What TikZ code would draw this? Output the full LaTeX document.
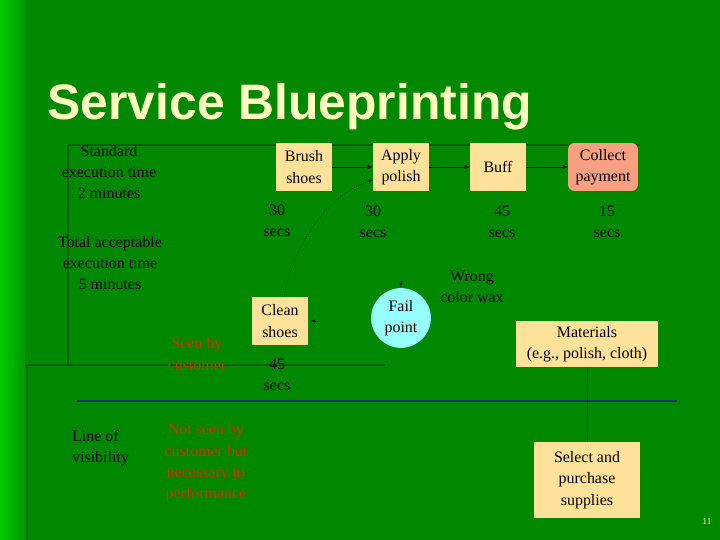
\documentclass[tikz,border=0pt]{standalone}
\usepackage{fontspec}
\setmainfont{Liberation Serif}
\newfontfamily\titlefont{Liberation Sans}
\usetikzlibrary{arrows}
\usetikzlibrary{shapes}
\usetikzlibrary{calc}
\usetikzlibrary{positioning}

\definecolor{slidegreen}{RGB}{0,136,0}
\definecolor{stripgreen}{RGB}{0,200,0}
\definecolor{framegreen}{RGB}{0,95,0}
\definecolor{titlecream}{RGB}{255,255,192}
\definecolor{boxcream}{RGB}{255,226,154}
\definecolor{paysalmon}{RGB}{250,160,130}
\definecolor{failcyan}{RGB}{150,255,255}
\definecolor{seenred}{RGB}{205,50,0}
\definecolor{visblue}{RGB}{15,55,110}

\tikzset{
  txt/.style={align=center, inner sep=0pt, text=black, font=\fontsize{16}{21.5}\selectfont},
  stepbox/.style={txt, fill=boxcream, minimum width=56, minimum height=48},
  paybox/.style={stepbox, fill=paysalmon, rounded corners=6, minimum width=70},
  redtxt/.style={txt, text=seenred},
  flow/.style={->, thick, draw=black}
}

\begin{document}
\begin{tikzpicture}[>=latex, x=1bp, y=-1bp]
    \path[use as bounding box] (0,0) rectangle (720,540);
% slide background
\begin{scope}
\fill[slidegreen] (0,0) rectangle (720,540);
\foreach \i in {0,...,9}
  \fill[stripgreen!\the\numexpr 100-\i*8\relax!slidegreen] (2.5*\i,0) rectangle (2.5*\i+2.6,540);
\draw[draw=framegreen, line width=3] (68,145) -- (640,145);
\draw[draw=framegreen, line width=3] (68,145) -- (68,365);
\draw[draw=framegreen, line width=3] (25,365) -- (385,365);
\draw[draw=framegreen!60!slidegreen, line width=2] (27,365) -- (27,540);
\end{scope}

% left notes
\node[txt] (std) at (109,172) {Standard\\execution time\\2 minutes};
\node[font=\fontsize{16}{21.5}\selectfont, align=center] (total) at (110,263) {Total acceptable\\execution time\\5 minutes};
\node[txt, align=left, anchor=west] (lovtxt) at (72,448) {Line of\\visibility};
\node[redtxt] (seen) at (197,354) {Seen by\\customer};
\node[redtxt] (notseen) at (206,463) {Not seen by\\customer but\\necessary to\\performance};

% onstage steps
\node[stepbox] (brush) at (304,167) {Brush\\shoes};
\node[stepbox] (apply) at (401,167) {Apply\\polish};
\node[stepbox] (buff) at (498,167) {Buff};
\node[paybox] (pay) at (603,167) {Collect\\payment};
\node[stepbox] (clean) at (280,321) {Clean\\shoes};
\node[circle, fill=failcyan, minimum size=60, txt] (fail) at (401,318) {Fail\\point};

\foreach \a / \b in {brush/apply, apply/buff, buff/pay}
  \draw[flow] (\a) -- (\b);
\draw[->, dotted, draw=black] ($(clean.north)+(4,0)$) .. controls (292,250) and (325,195) .. ($(apply.west)+(0,13)$);
\draw[->, draw=black] ($(clean.east)+(7,0)$) -- ($(clean.east)+(3,0)$);
\draw[->, draw=black] ($(fail.north)+(0,-7)$) -- ($(fail.north)+(0,-1)$);

% times
\node[font=\fontsize{16}{21.5}\selectfont, text=black, inner sep=0pt] (t-brush) at (277,222) {\begin{tabular}{@{}c@{}}30\\secs\end{tabular}};
\node[txt] (t-apply) at (373,222) {30\\secs};
\node[font=\fontsize{16}{21.5}\selectfont, text=black, align=center] (t-buff) at (502,222) {45\\secs};
\node[txt, execute at begin node=\color{black}] (t-pay) at (607,222) {15\\secs};
\node[txt] (t-clean) at (277,375) {45\\secs};
\node[txt] (wrong) at (472,287) {Wrong\\color wax};

% line of visibility
\coordinate (lov-w) at (77,401);
\coordinate (lov-e) at (677,401);
\draw[draw=visblue, line width=2] (lov-w) -- (lov-e);

% backstage
\node[stepbox, minimum width=143, minimum height=47] (materials) at (587,344) {Materials\\(e.g., polish, cloth)};
\node[stepbox, minimum width=106, minimum height=76] (supplies) at (587,480) {Select and\\purchase\\supplies};
\draw[draw=black] (materials) -- (supplies);

% title and page number
\node[anchor=base west, font=\titlefont\bfseries\fontsize{50}{52}\selectfont, text=titlecream] (title) at (44,120) {Service Blueprinting};
\node[font=\fontsize{9}{10}\selectfont, text=titlecream] (pgno) at (707,522) {11};
\end{tikzpicture}
\end{document}
